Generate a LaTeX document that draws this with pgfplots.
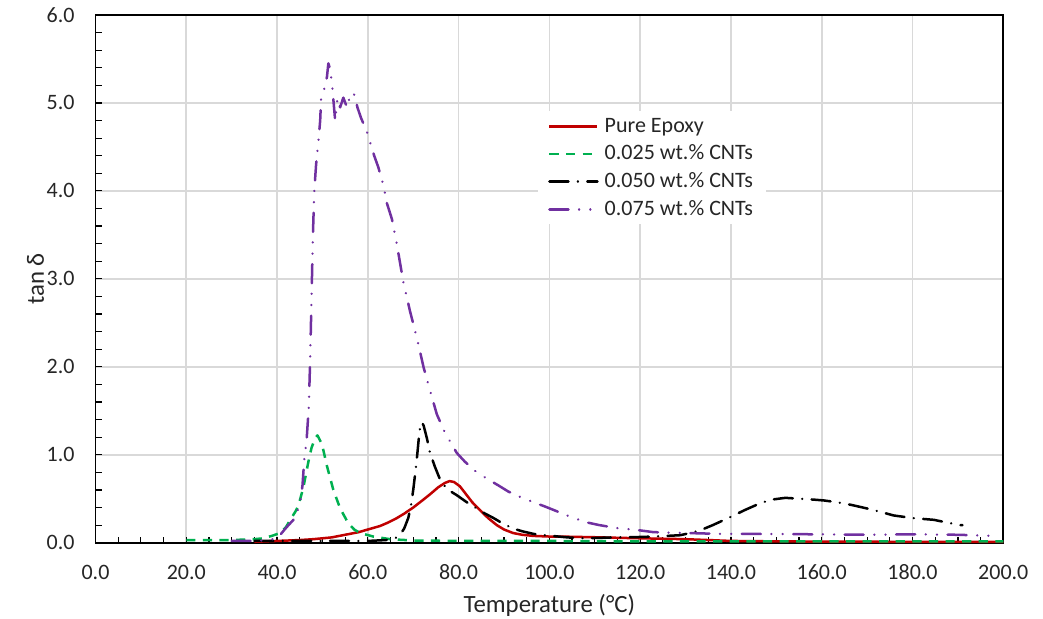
\documentclass[border=0pt]{standalone}
\usepackage{fontspec}
\setmainfont{Carlito}
\usepackage{pgfplots}
\pgfplotsset{compat=1.18}
\definecolor{cred}{HTML}{C00000}
\definecolor{cgreen}{HTML}{00B050}
\definecolor{cpurple}{HTML}{7030A0}
\definecolor{gridgray}{HTML}{D9D9D9}
\definecolor{ticktext}{HTML}{262626}
\begin{document}
\begin{tikzpicture}
\begin{axis}[
  scale only axis, width=453.9pt, height=263.85pt,
  xmin=0, xmax=200, ymin=0, ymax=6,
  xtick={0,20,...,200}, ytick={0,1,...,6},
  minor x tick num=3, minor y tick num=4,
  tick align=inside, xtick pos=bottom, ytick pos=left,
  major tick length=3pt, minor tick length=3pt,
  every tick/.style={black, line width=0.6pt},
  grid=major, major grid style={color=gridgray, line width=0.8pt},
  axis line style={black, line width=0.9pt},
  clip=false,
  /pgf/number format/.cd, fixed, fixed zerofill, precision=1, assume math mode=true, /pgfplots/.cd,
  xticklabel style={font=\fontsize{11}{13}\selectfont, color=ticktext, inner sep=0pt, anchor=center, yshift=-14.9pt},
  yticklabel style={font=\fontsize{11}{13}\selectfont, color=ticktext, inner sep=0pt, anchor=east, xshift=-10.25pt},
  xlabel={Temperature (°C)},
  ylabel={tan δ},
  xlabel style={font=\fontsize{12.4}{14}\selectfont, color=ticktext, at={(axis description cs:0.5,-0.118)}, anchor=center},
  ylabel style={font=\fontsize{12.4}{14}\selectfont, color=ticktext, at={(axis description cs:-0.0661,0.5)}, anchor=center, rotate=0},
  legend cell align=left,
  legend style={at={(0.4865,0.818)}, anchor=north west, fill=white, draw=none,
    font=\fontsize{11}{13}\selectfont, text=ticktext, inner xsep=5.35pt, inner ysep=0.5pt,
    nodes={inner xsep=1pt, inner ysep=1.8pt, text height=8pt, text depth=2.25pt}},
  legend image code/.code={\draw[#1] (0pt,0pt) -- (24pt,0pt); \path (26pt,0pt);},
]
\coordinate (O) at (rel axis cs:0,0);
% Pure Epoxy
\addplot[cred, line width=1.25pt, line join=round] coordinates {
(35,0.01) (40,0.02) (45,0.03) (48,0.04) (52,0.06) (55,0.09) (58,0.12) (60,0.15)
(62.7,0.19) (64.5,0.23) (66.4,0.28) (68,0.33) (70,0.40) (72,0.48) (73.7,0.55)
(75.5,0.63) (77,0.68) (78,0.70) (79,0.69) (80.3,0.64) (81.8,0.54) (83,0.46)
(84.7,0.37) (86.5,0.28) (88.4,0.20) (90,0.15) (92,0.11) (94,0.09) (96.5,0.077)
(100,0.07) (104,0.068) (110,0.062) (114,0.057) (120,0.05) (125,0.045) (130,0.04)
(135,0.03) (140,0.02) (150,0.015) (160,0.012) (180,0.01) (200,0.01)};
\addlegendentry{Pure Epoxy}
% 0.025
\addplot[cgreen, line width=1.25pt, line join=round, dash pattern=on 4.6pt off 3.7pt] coordinates {
(20,0.03) (25,0.03) (30,0.03) (35,0.04) (37,0.05) (39,0.08) (40.7,0.11) (42,0.18)
(42.9,0.26) (44,0.35) (44.7,0.42) (45.8,0.63) (46.9,0.92) (47.6,1.08) (48.4,1.19)
(48.9,1.22) (49.9,1.12) (51,0.87) (52.4,0.60) (53.9,0.39) (55.7,0.22) (57,0.15)
(58.3,0.11) (61.2,0.07) (64.9,0.04) (70,0.025) (80,0.02) (100,0.02) (120,0.015)
(140,0.015) (160,0.015) (180,0.015) (200,0.015)};
\addlegendentry{0.025 wt.\% CNTs}
% 0.050
\addplot[black, line width=1.25pt, line join=round, line cap=round, dash pattern=on 9.5pt off 4.7pt on 0.01pt off 4.7pt] coordinates {
(35,0.02) (40,0.02) (50,0.02) (60,0.02) (64,0.03) (66,0.05) (67.1,0.09) (68,0.16)
(68.9,0.28) (69.5,0.42) (70,0.60) (70.6,0.86) (70.9,1.01) (71.4,1.28) (71.9,1.37)
(72.3,1.33) (73,1.19) (73.7,1.02) (74.8,0.86) (75.9,0.72) (77.4,0.61) (79.6,0.54)
(81.8,0.46) (84,0.39) (85.5,0.34) (87.7,0.28) (90,0.21) (92.1,0.16) (94,0.13)
(96.5,0.10) (100,0.08) (104,0.06) (108,0.05) (114,0.06) (120,0.065) (123,0.07)
(128.8,0.085) (131,0.11) (133.2,0.14) (136,0.20) (139.8,0.29) (143,0.37) (146.5,0.45)
(149,0.49) (152,0.51) (155,0.50) (158.2,0.49) (160.5,0.48) (163.4,0.46) (166.5,0.43)
(169.9,0.39) (173,0.35) (175.8,0.31) (180,0.28) (184.7,0.26) (187.5,0.23) (190.5,0.20)
(191,0.20)};
\addlegendentry{0.050 wt.\% CNTs}
% 0.075
\addplot[cpurple, line width=1.25pt, line join=round, line cap=round, dash pattern=on 9.5pt off 5.3pt on 0.01pt off 5.6pt on 0.01pt off 5.3pt] coordinates {
(30,0.02) (35,0.02) (38,0.03) (40,0.05) (40.7,0.09) (42,0.17) (43.6,0.26) (44.5,0.36)
(45.1,0.46) (45.6,0.65) (46,0.95) (46.5,1.16) (47.0,1.55) (47.3,2.1) (47.6,2.8)
(47.9,3.5) (48.2,4.0) (48.6,4.3) (49.1,4.56) (49.5,4.8) (49.7,5.04) (50.4,5.16)
(51.0,5.30) (51.3,5.45) (51.6,5.40) (52.1,5.23) (52.3,5.10) (52.8,4.80) (53.3,5.05)
(53.9,4.95) (54.6,5.06) (55.4,4.95) (56.1,5.08) (56.8,5.12) (57.3,5.05) (57.7,4.95)
(58.5,4.83) (59.8,4.67) (61.4,4.40) (62.3,4.27) (63.4,4.07) (64.2,3.86) (65.3,3.68)
(66.4,3.39) (67.8,2.97) (69.3,2.63) (70.8,2.33) (72.3,1.99) (73.7,1.73) (75.2,1.46)
(77,1.25) (79.6,1.02) (81.4,0.92) (84,0.80) (86.5,0.72) (88.8,0.65) (91,0.58)
(93.6,0.52) (96.5,0.46) (99.1,0.41) (101.5,0.36) (103.9,0.31) (106,0.27) (108.3,0.23)
(111,0.20) (115.6,0.16) (118.5,0.15) (122.9,0.12) (126,0.115) (130.3,0.11) (137.6,0.10)
(145,0.10) (160,0.095) (170,0.09) (180,0.095) (190,0.09) (198.6,0.076)};
\addlegendentry{0.075 wt.\% CNTs}
\end{axis}
\pgfresetboundingbox
\path (O) ++(-47.75pt,-38.15pt) rectangle ++(521.5pt,309.5pt);
\end{tikzpicture}
\end{document}
